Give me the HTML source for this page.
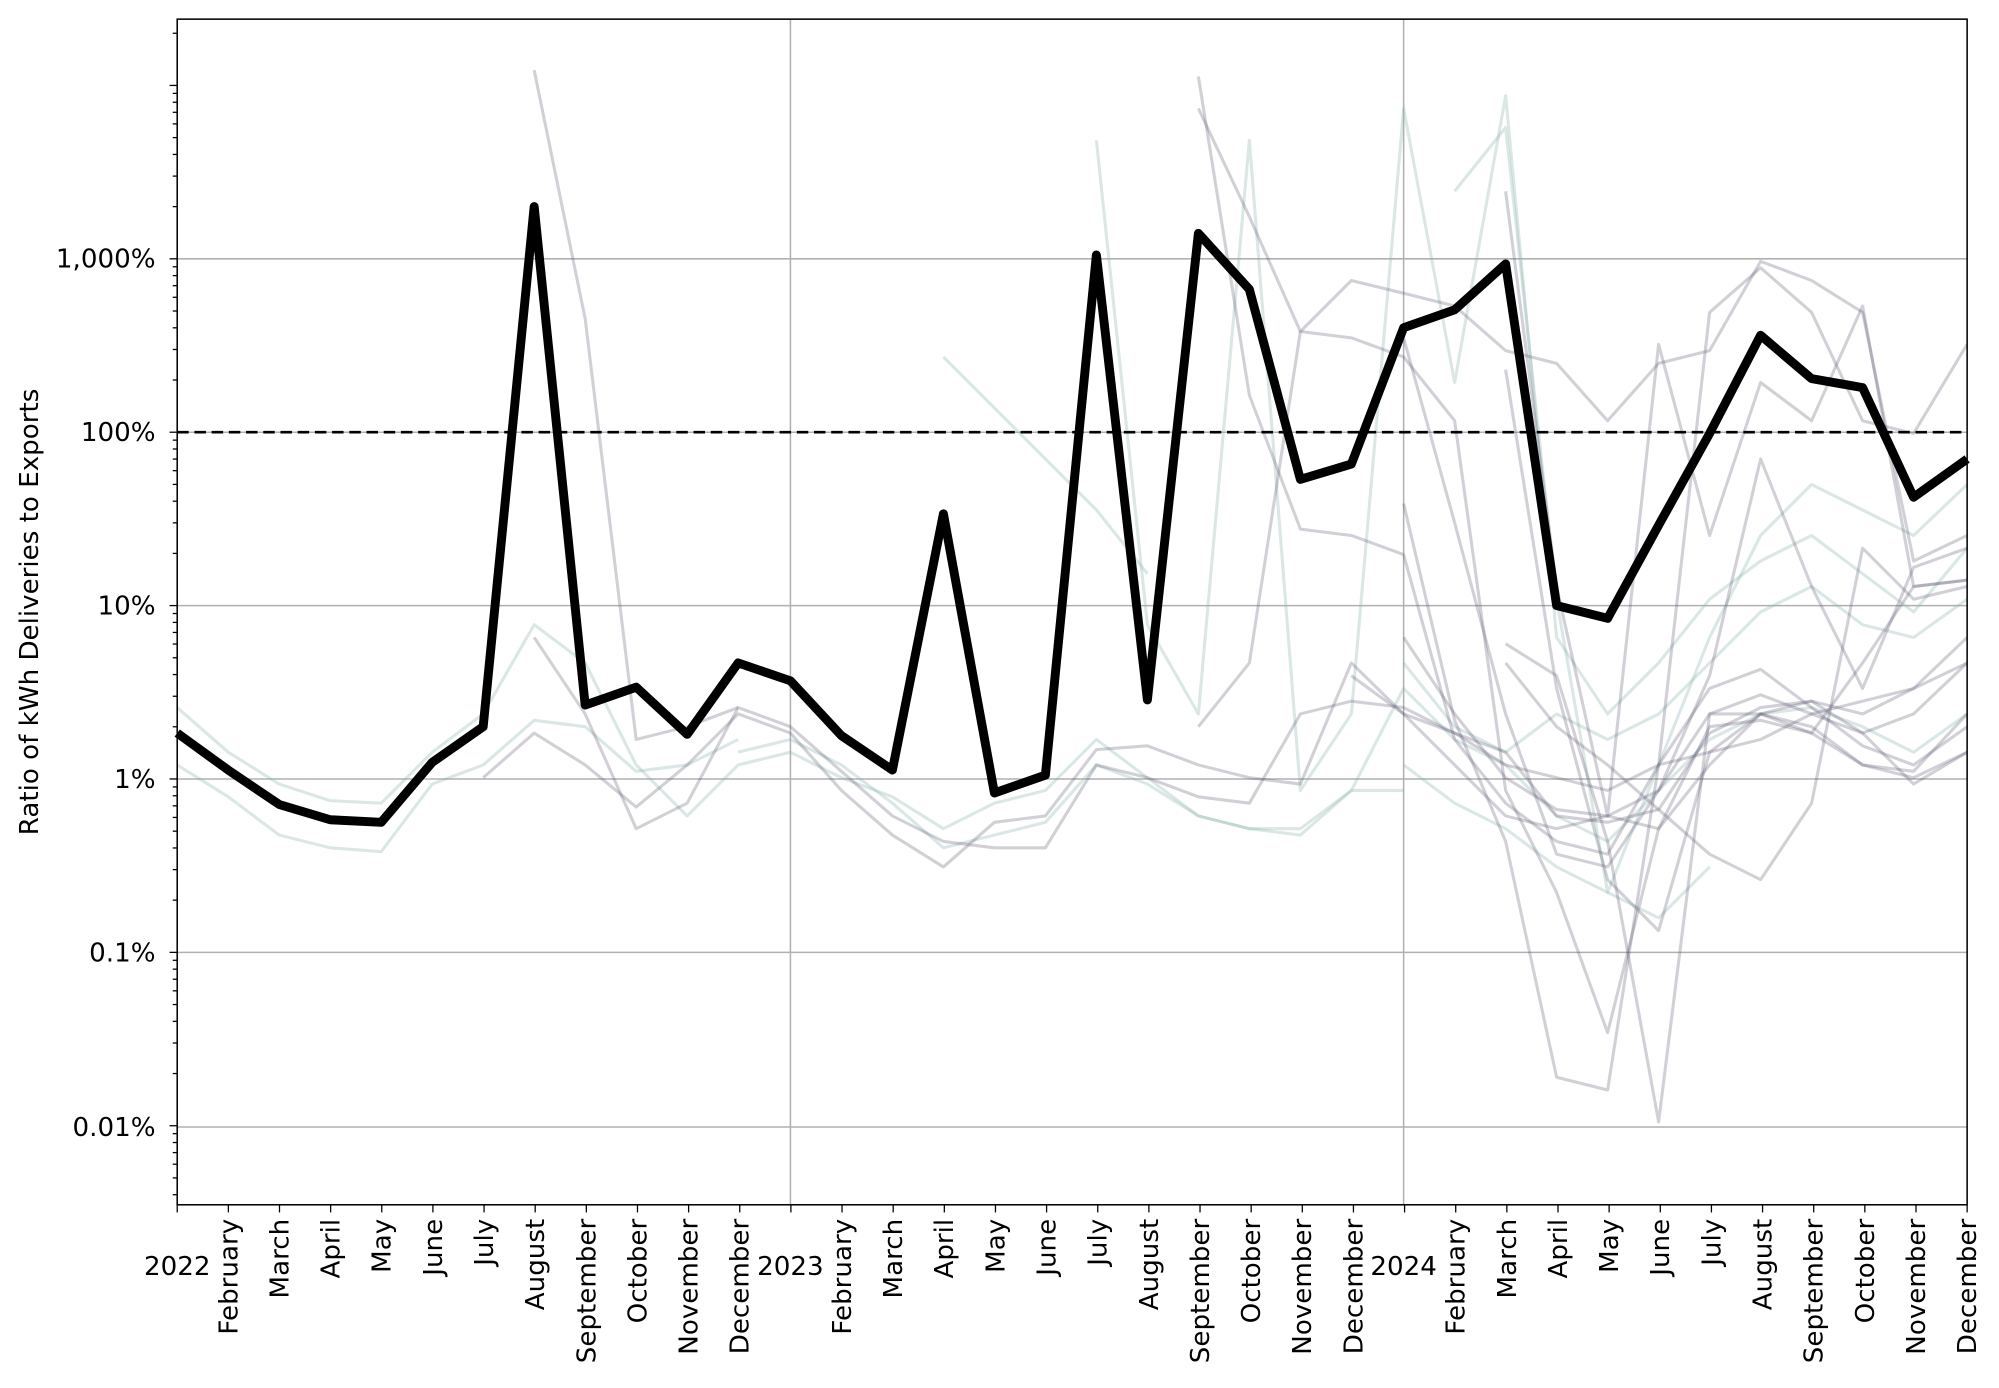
<!DOCTYPE html>
<html><head><meta charset="utf-8"><style>
html,body{margin:0;padding:0;background:#fff}
svg{display:block}
text{font-family:"DejaVu Sans","Liberation Sans",sans-serif;fill:#000}
</style></head><body>
<svg width="1999" height="1388" viewBox="0 0 1568 1088.7" xmlns="http://www.w3.org/2000/svg">
<rect width="1568" height="1089" fill="#fff"/>
<g stroke="#b0b0b0" stroke-width="1.2">
<line x1="139" x2="1543" y1="203" y2="203"/><line x1="139" x2="1543" y1="339" y2="339"/>
<line x1="139" x2="1543" y1="475" y2="475"/><line x1="139" x2="1543" y1="611" y2="611"/>
<line x1="139" x2="1543" y1="747" y2="747"/><line x1="139" x2="1543" y1="884" y2="884"/>
<line x1="620" x2="620" y1="15" y2="945"/><line x1="1101" x2="1101" y1="15" y2="945"/>
</g>
<g fill="none" stroke-width="2.4" stroke-linejoin="round">
<g stroke="rgba(140,180,175,0.32)">
<polyline points="139,555 179,590 219,615 259,628 299,630 339,590 379,560 419,490 459,520 499,600 539,640 579,600 620,590 660,610 700,625 740,650 780,630 820,620 860,580 900,610 940,640 980,650 1020,655 1060,620 1101,540 1141,580 1181,600 1221,640 1261,660 1301,620 1341,580 1381,560 1421,555 1461,570 1501,590 1543,560"/>
<polyline points="139,600 179,625 219,655 259,665 299,668 339,615 379,600 419,565 459,570 499,605 539,600 579,580"/>
<polyline points="860,110 900,490 940,560 980,110 1020,620 1060,560 1101,85 1141,300 1181,75 1221,500 1261,560 1301,520 1341,470 1381,440 1421,420 1461,450 1501,480 1543,430"/>
<polyline points="740,280 780,320 820,360 860,400 900,450"/>
<polyline points="1141,150 1181,100 1221,470 1261,700 1301,600 1341,500 1381,420 1421,380 1461,400 1501,420 1543,380"/>
<polyline points="1101,520 1141,570 1181,590 1221,560 1261,580 1301,560 1341,520 1381,480 1421,460 1461,490 1501,500 1543,470"/>
<polyline points="1101,600 1141,630 1181,650 1221,680 1261,700 1301,720 1341,680"/>
<polyline points="579,590 620,580 660,600 700,630 740,665 780,655 820,645 860,600 900,615 940,640 980,650 1020,650 1060,620 1101,620"/>
</g>
<g stroke="rgba(90,85,110,0.28)">
<polyline points="379,610 419,575 459,600 499,633 539,600 579,560 620,575 660,620 700,655 740,680 780,645 820,640 860,588 900,585 940,600 980,610 1020,615 1060,520 1101,560 1141,575 1181,600 1221,610 1261,620 1301,600 1341,590 1381,560 1421,550 1461,560 1501,540 1543,520"/>
<polyline points="419,55 459,250 499,580 539,570 579,555"/>
<polyline points="419,500 459,560 499,650 539,630 579,555 620,570 660,605 700,640 740,660 780,665 820,665 860,600 900,610 940,625 980,630 1020,560 1060,550 1101,555 1141,575 1181,590 1221,640 1261,645 1301,635 1341,575 1381,555 1421,550 1461,575 1501,560 1543,520"/>
<polyline points="940,60 980,310 1020,415 1060,420 1101,435 1141,580 1181,630 1221,660 1261,670 1301,600 1341,540 1381,525 1421,555 1461,585 1501,600 1543,570"/>
<polyline points="940,85 980,170 1020,260 1060,220 1101,230 1141,240 1181,275 1221,285 1261,330 1301,285 1341,275 1381,205 1421,220 1461,245 1501,440 1543,420"/>
<polyline points="940,570 980,520 1020,260 1060,265 1101,280 1141,330 1181,620 1221,700 1261,810 1301,650 1341,600 1381,560 1421,575 1461,520 1501,460 1543,455"/>
<polyline points="1181,150 1221,460 1261,640 1301,270 1341,420 1381,300 1421,330 1461,240 1501,460 1543,455"/>
<polyline points="1101,265 1141,410 1181,560 1221,670 1261,680 1301,620 1341,530 1381,360 1421,460 1461,540 1501,445 1543,430"/>
<polyline points="1101,500 1141,560 1181,610 1221,635 1261,640 1301,650 1341,570 1381,565 1421,575 1461,600 1501,605 1543,560"/>
<polyline points="1181,505 1221,530 1261,660 1301,880 1341,560 1381,545 1421,560 1461,575 1501,615 1543,590"/>
<polyline points="1181,520 1221,570 1261,600 1301,635 1341,670 1381,690 1421,630 1461,430 1501,470 1543,460"/>
<polyline points="1101,395 1141,565 1181,660 1221,845 1261,855 1301,600 1341,245 1381,210 1421,245 1461,330 1501,340 1543,270"/>
<polyline points="1060,530 1101,560 1141,600 1181,640 1221,650 1261,640 1301,620 1341,560 1381,560 1421,570 1461,600 1501,610 1543,590"/>
<polyline points="1181,290 1221,540 1261,690 1301,730 1341,590 1381,580 1421,560 1461,550 1501,540 1543,500"/>
</g>
</g>
<line x1="139" x2="1543" y1="339" y2="339" stroke="#000" stroke-width="2" stroke-dasharray="9,4.5"/>
<polyline fill="none" stroke="#000" stroke-width="7" stroke-linejoin="round" points="139,575 179,604 219,631 259,643 299,645 339,598 379,570 419,162 459,553 499,539 539,576 579,520 620,534 660,577 700,604 740,403 780,622 820,608 860,200 900,549 940,183 980,227 1020,376 1060,364 1101,257 1141,243 1181,207 1221,475 1261,485 1301,412 1341,340 1381,263 1421,297 1461,304 1501,390 1543,360"/>
<rect x="139" y="15" width="1404" height="930" fill="none" stroke="#000" stroke-width="1.2"/>
<g id="ticks" stroke="#000" stroke-width="1"></g>
<g font-size="20.5" text-anchor="end">
<text x="122" y="210">1,000%</text><text x="122" y="346">100%</text><text x="122" y="482">10%</text>
<text x="122" y="618">1%</text><text x="122" y="754">0.1%</text><text x="122" y="891">0.01%</text>
</g>
<text font-size="20.5" transform="translate(30,480) rotate(-90)" text-anchor="middle">Ratio of kWh Deliveries to Exports</text>
<g font-size="20.5" text-anchor="middle">
<text x="139" y="1000">2022</text><text x="620" y="1000">2023</text><text x="1101" y="1000">2024</text>
</g>
<g id="months" font-size="20.5" text-anchor="end"></g>
</svg>
<script>
var ns="http://www.w3.org/2000/svg",t=document.getElementById("ticks"),m=document.getElementById("months");
function L(x1,y1,x2,y2){var l=document.createElementNS(ns,"line");l.setAttribute("x1",x1);l.setAttribute("y1",y1);l.setAttribute("x2",x2);l.setAttribute("y2",y2);t.appendChild(l);}
var names=["February","March","April","May","June","July","August","September","October","November","December"];
for(var i=0;i<36;i++){var x=139+i*(1404/35);L(x,945,x,951);
 if(i%12!=0){var tx=document.createElementNS(ns,"text");tx.setAttribute("transform","translate("+(x+7)+",956) rotate(-90)");tx.textContent=names[(i%12)-1];m.appendChild(tx);}}
for(var e=-6;e<=4;e++){for(var k=1;k<10;k++){var y=339-136*(e+Math.log10(k));if(y<15||y>945)continue;if(k==1)L(133,y,139,y);else L(135.5,y,139,y);}}
</script>
</body></html>
